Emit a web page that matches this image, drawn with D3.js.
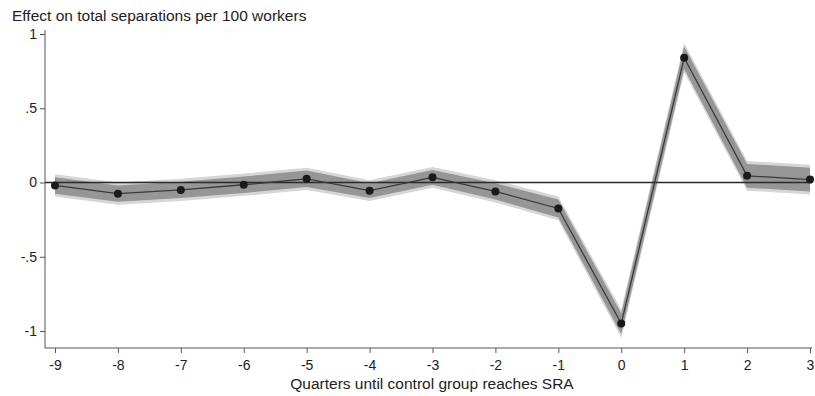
<!DOCTYPE html>
<html><head><meta charset="utf-8">
<script src="https://cdn.jsdelivr.net/npm/d3@7"></script>
<style>body{margin:0;background:#fff}svg{display:block}text{font-family:"Liberation Sans",Arial,sans-serif}</style>
</head><body><svg id="c" width="815" height="396"></svg>
<script>
const quarters = [-9,-8,-7,-6,-5,-4,-3,-2,-1,0,1,2,3];
const effect   = [-0.02,-0.075,-0.05,-0.015,0.025,-0.055,0.035,-0.06,-0.175,-0.95,0.84,0.045,0.02];
const ciInner  = [0.055,0.055,0.055,0.055,0.055,0.05,0.05,0.055,0.06,0.07,0.075,0.08,0.08];
const ciOuter  = [0.075,0.075,0.075,0.075,0.075,0.07,0.07,0.075,0.08,0.095,0.1,0.1,0.1];
const yTicks = [-1,-0.5,0,0.5,1];
const yTickLabels = ["-1","-.5","0",".5","1"];
const yTitle = "Effect on total separations per 100 workers";
const xTitle = "Quarters until control group reaches SRA";

const svg = d3.select("#c");
const x = d3.scaleLinear().domain([-9,3]).range([55,810]);
const y = d3.scaleLinear().domain([-1,1]).range([331,34]);
const axisX0 = 45, axisY0 = 348;

const data = quarters.map((q,i)=>({q, v:effect[i], ci:ciInner[i], co:ciOuter[i]}));

const area = (w)=>d3.area().x(d=>x(d.q)).y0(d=>y(d.v-d[w])).y1(d=>y(d.v+d[w]));
svg.append("path").datum(data).attr("d",area("co")).attr("fill","#d6d6d6");
svg.append("path").datum(data).attr("d",area("ci")).attr("fill","#969696");

// zero line
svg.append("line").attr("x1",axisX0).attr("x2",812).attr("y1",y(0)).attr("y2",y(0))
  .attr("stroke","#2a2a2a").attr("stroke-width",1.3);

svg.append("path").datum(data)
  .attr("d",d3.line().x(d=>x(d.q)).y(d=>y(d.v)))
  .attr("fill","none").attr("stroke","#3a3a3a").attr("stroke-width",1.3);
svg.selectAll("circle.p").data(data).join("circle")
  .attr("cx",d=>x(d.q)).attr("cy",d=>y(d.v)).attr("r",4).attr("fill","#1a1a1a");

// Y axis
const gy = svg.append("g").attr("transform",`translate(${axisX0},0)`)
  .call(d3.axisLeft(y).tickValues(yTicks).tickFormat((d,i)=>yTickLabels[i]).tickSize(5).tickSizeOuter(0));
gy.select(".domain").attr("d",`M0,30V${axisY0}`).attr("stroke","#555");
gy.selectAll(".tick line").attr("stroke","#555");
gy.selectAll(".tick text").attr("font-size",14).attr("fill","#222").attr("font-family","Liberation Sans, Arial, sans-serif").attr("x",-8);

// X axis
const gx = svg.append("g").attr("transform",`translate(0,${axisY0})`)
  .call(d3.axisBottom(x).tickValues(quarters).tickFormat(d=>String(d)).tickSize(5).tickSizeOuter(0));
gx.select(".domain").attr("d",`M${axisX0},0H812`).attr("stroke","#555");
gx.selectAll(".tick line").attr("stroke","#555");
gx.selectAll(".tick text").attr("font-size",14).attr("fill","#222").attr("font-family","Liberation Sans, Arial, sans-serif").attr("dy","1.0em");

svg.append("text").attr("x",12).attr("y",21).attr("font-size",15.5).attr("fill","#222").text(yTitle);
svg.append("text").attr("x",432).attr("y",389).attr("text-anchor","middle").attr("font-size",15.5).attr("fill","#222").text(xTitle);
</script></body></html>
